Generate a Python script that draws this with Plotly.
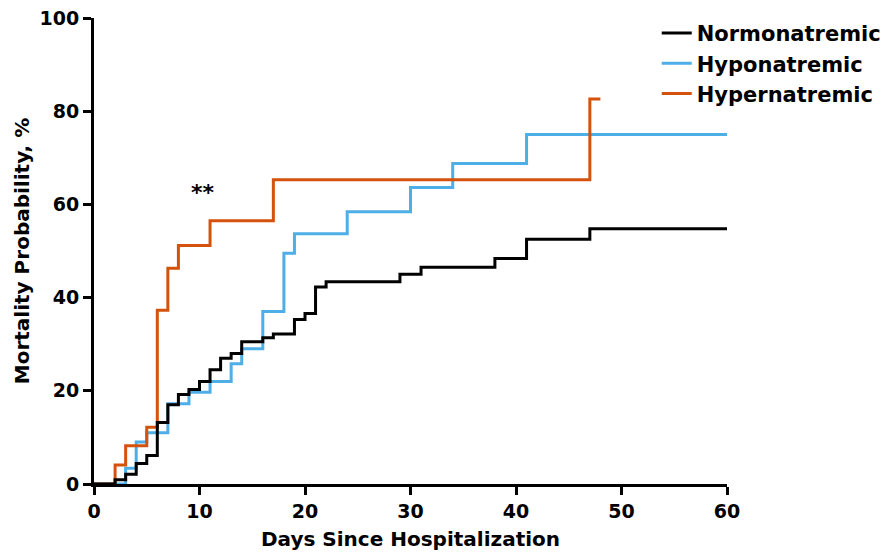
import plotly.graph_objects as go

# Step points (day, cumulative mortality %)
normo_days = [0, 2, 3, 4, 5, 6, 7, 8, 9, 10, 11, 12, 13, 14, 16, 17, 19, 20, 21, 22, 29, 31, 38, 41, 47, 60]
normo_vals = [0, 0.9, 2.1, 4.4, 6.1, 13.2, 17.0, 19.2, 20.3, 22.0, 24.5, 27.0, 28.0, 30.5, 31.4, 32.2, 35.3, 36.6, 42.3, 43.4, 45.0, 46.5, 48.4, 52.5, 54.8, 54.8]

hypo_days = [0, 3, 4, 5, 7, 9, 11, 13, 14, 16, 18, 19, 24, 30, 34, 41, 60]
hypo_vals = [0, 3.4, 9.0, 11.0, 17.2, 19.7, 22.0, 25.8, 29.0, 37.0, 49.5, 53.7, 58.4, 63.6, 68.8, 75.0, 75.0]

hyper_days = [0, 2, 3, 5, 6, 7, 8, 11, 17, 47, 48]
hyper_vals = [0, 4.1, 8.2, 12.2, 37.3, 46.3, 51.2, 56.5, 65.3, 82.6, 82.6]

x_ticks = [0, 10, 20, 30, 40, 50, 60]
y_ticks = [0, 20, 40, 60, 80, 100]

BLACK = "#000000"
BLUE = "#4DAEE8"
ORANGE = "#D4520C"
FONT = "DejaVu Sans"

fig = go.Figure()
fig.add_trace(go.Scatter(x=hypo_days, y=hypo_vals, mode="lines", line_shape="hv",
                         line=dict(color=BLUE, width=3), name="Hyponatremic",
                         legendrank=2, legendgroup="b"))
fig.add_trace(go.Scatter(x=hyper_days, y=hyper_vals, mode="lines", line_shape="hv",
                         line=dict(color=ORANGE, width=3), name="Hypernatremic",
                         legendrank=3, legendgroup="c"))
fig.add_trace(go.Scatter(x=normo_days, y=normo_vals, mode="lines", line_shape="hv",
                         line=dict(color=BLACK, width=3), name="Normonatremic",
                         legendrank=1, legendgroup="a"))

fig.add_annotation(x=10.3, y=62.5, text="**", showarrow=False,
                   font=dict(family=FONT, size=22, color="black", weight="bold"))

axis_common = dict(showline=True, linecolor="black", linewidth=3, ticks="outside",
                   ticklen=8, tickwidth=3, tickcolor="black", showgrid=False,
                   zeroline=False, layer="below traces",
                   tickfont=dict(family=FONT, size=19, color="black", weight="bold"))

fig.update_xaxes(range=[0, 60], tickvals=x_ticks,
                 title=dict(text="Days Since Hospitalization", standoff=12,
                            font=dict(family=FONT, size=20, color="black", weight="bold")),
                 **axis_common)
fig.update_yaxes(range=[0, 100], tickvals=y_ticks,
                 title=dict(text="Mortality Probability, %", standoff=5,
                            font=dict(family=FONT, size=20, color="black", weight="bold")),
                 **axis_common)

fig.update_layout(
    width=893, height=555,
    margin=dict(l=94, r=166, t=18, b=71, autoexpand=False),
    plot_bgcolor="white", paper_bgcolor="white",
    showlegend=True,
    legend=dict(x=0.889, y=1.011, xanchor="left", yanchor="top",
                font=dict(family=FONT, size=21, color="black", weight="bold"),
                bgcolor="rgba(0,0,0,0)", traceorder="normal", tracegroupgap=2),
)

fig.write_html("out.html")
